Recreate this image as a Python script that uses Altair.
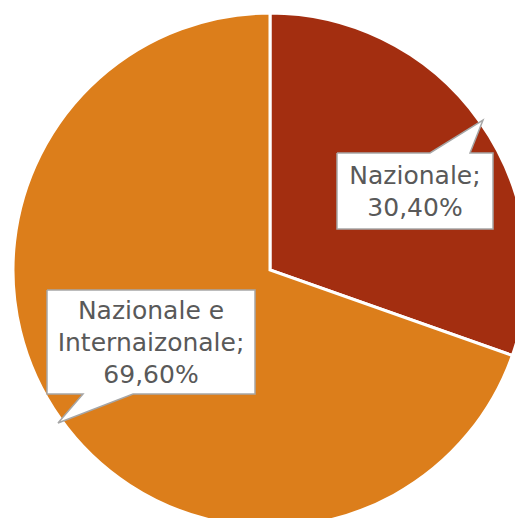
import altair as alt
import pandas as pd

# ---- data ----
categories = ["Nazionale", "Nazionale e Internaizonale"]
values = [30.4, 69.6]
label_lines = [["Nazionale;", "30,40%"], ["Nazionale e", "Internaizonale;", "69,60%"]]
colors = ["#A32E10", "#DC7E1B"]

# ---- layout (pixel geometry of the view) ----
W, H = 507, 510
CX, CY, R = 262, 262, 257

# callout shapes (box + pointer), in view pixels
callout_1 = [(329, 145), (422, 145), (475, 112), (462, 145), (485, 145), (485, 221), (329, 221), (329, 145)]
callout_2 = [(39, 282), (247, 282), (247, 386), (125, 386), (50, 415), (75, 386), (39, 386), (39, 282)]
label_pos = [(407, 168), (143, 303)]  # centre x, first-line y

pie_df = pd.DataFrame({"cat": categories, "val": values, "ord": [0, 1]})

rows = []
for cid, poly in enumerate([callout_1, callout_2]):
    for i, (px, py) in enumerate(poly):
        rows.append({"id": cid, "i": i, "px": px, "py": py})
callout_df = pd.DataFrame(rows)

text_df = pd.DataFrame({
    "tx": [p[0] for p in label_pos],
    "ty": [p[1] for p in label_pos],
    "txt": label_lines,
})

pie = alt.Chart(pie_df).mark_arc(outerRadius=R, stroke="white", strokeWidth=3).encode(
    theta=alt.Theta("val:Q", stack=True),
    color=alt.Color("cat:N", scale=alt.Scale(domain=categories, range=colors), legend=None),
    order=alt.Order("ord:Q"),
    x=alt.value(CX),
    y=alt.value(CY),
)

callouts = alt.Chart(callout_df).mark_line(
    fill="white", stroke="#A6A6A6", strokeWidth=1.5, strokeJoin="miter"
).encode(
    x=alt.X("px:Q", scale=None),
    y=alt.Y("py:Q", scale=None),
    detail="id:N",
    order="i:Q",
)

texts = alt.Chart(text_df).mark_text(
    font="DejaVu Sans", fontSize=25, lineHeight=32, color="#595959",
    align="center", baseline="middle"
).encode(
    x=alt.X("tx:Q", scale=None),
    y=alt.Y("ty:Q", scale=None),
    text="txt",
)

chart = alt.layer(pie, callouts, texts).properties(
    width=W, height=H, autosize="none", padding=0
).configure_view(stroke=None)

chart.save("out.html", embed_options={"renderer": "svg", "actions": False})
